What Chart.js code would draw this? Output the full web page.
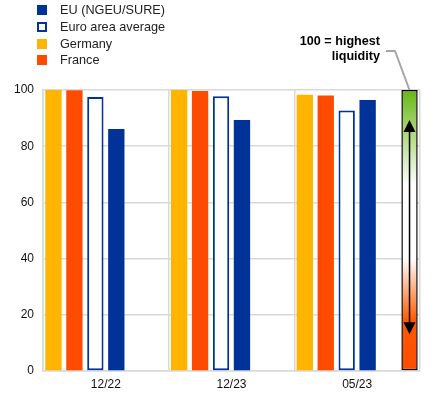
<!DOCTYPE html>
<html>
<head>
<meta charset="utf-8">
<script src="https://cdn.jsdelivr.net/npm/chart.js@4"></script>
<style>
  body { margin: 0; background: #fff; font-family: "Liberation Sans", Arial, sans-serif; }
  #wrap { position: relative; width: 435px; height: 399px; }
  #legend { position: absolute; left: 37px; top: 2px; font-size: 12.7px; color: #222; }
  #legend div { height: 16.7px; display: flex; align-items: center; }
  #legend span.box { display: inline-block; width: 10px; height: 10px; margin-right: 13px; box-sizing: border-box; }
</style>
</head>
<body>
<div id="wrap">
  <canvas id="chart" width="435" height="399"></canvas>
  <div id="legend"></div>
</div>
<script>
const categories = ["12/22", "12/23", "05/23"];

const germany = [100, 100, 98.3];
const france = [99.9, 99.6, 98.0];
const euroAvg = [97.5, 97.8, 92.7];
const eu = [86.1, 89.3, 96.4];
const scaleBar = [null, null, 100];

const blue = "#003299";
const yellow = "#ffb400";
const orange = "#ff4b00";

// legend (html)
const legendItems = [
    { label: "EU (NGEU/SURE)", fill: blue, border: blue },
    { label: "Euro area average", fill: "#fff", border: blue },
    { label: "Germany", fill: yellow, border: yellow },
    { label: "France", fill: orange, border: orange }
];
const legendEl = document.getElementById("legend");
legendItems.forEach(item => {
    const row = document.createElement("div");
    row.innerHTML = `<span class="box" style="background:${item.fill};border:2px solid ${item.border}"></span>${item.label}`;
    legendEl.appendChild(row);
});

// gradient for liquidity bar
function liquidityGradient(ctx) {
    const area = ctx.chart.chartArea;
    if (!area) return "#fff";
    const g = ctx.chart.ctx.createLinearGradient(0, area.top, 0, area.bottom);
    g.addColorStop(0, "#66b814");
    g.addColorStop(0.08, "#8cc84a");
    g.addColorStop(0.34, "#ffffff");
    g.addColorStop(0.6, "#ffffff");
    g.addColorStop(0.82, "#ff5a00");
    g.addColorStop(1, "#ff4b00");
    return g;
}

// arrows + annotation
const extras = {
    id: "extras",
    afterDatasetsDraw(chart) {
        const c = chart.ctx;
        const el = chart.getDatasetMeta(5).data[2];
        const x = el.x;
        const top = el.y;
        const bottom = el.base;

        c.save();
        c.strokeStyle = "#000";
        c.fillStyle = "#000";
        c.lineWidth = 1.5;
        c.beginPath();
        c.moveTo(x, top + 36);
        c.lineTo(x, bottom - 40);
        c.stroke();
        // up head
        c.beginPath();
        c.moveTo(x, top + 30);
        c.lineTo(x - 6, top + 42);
        c.lineTo(x + 6, top + 42);
        c.closePath();
        c.fill();
        // down head
        c.beginPath();
        c.moveTo(x, bottom - 36);
        c.lineTo(x - 6, bottom - 48);
        c.lineTo(x + 6, bottom - 48);
        c.closePath();
        c.fill();

        // leader line
        c.strokeStyle = "#a6a6a6";
        c.lineWidth = 2;
        c.beginPath();
        c.moveTo(386, 51);
        c.lineTo(395, 51);
        c.lineTo(x, top);
        c.stroke();

        c.font = "bold 12.6px 'Liberation Sans', Arial, sans-serif";
        c.textAlign = "right";
        c.textBaseline = "middle";
        c.fillText("100 = highest", 380, 42);
        c.fillText("liquidity", 380, 57);
        c.restore();
    }
};

new Chart(document.getElementById("chart"), {
    type: "bar",
    data: {
        labels: categories,
        datasets: [
            { label: "Germany", data: germany, backgroundColor: yellow },
            { label: "France", data: france, backgroundColor: orange },
            { label: "Euro area average", data: euroAvg, backgroundColor: "#fff",
              borderColor: blue, borderWidth: 2, borderSkipped: false },
            { label: "EU (NGEU/SURE)", data: eu, backgroundColor: blue },
            { label: "", data: [null, null, null] },
            { label: "scale", data: scaleBar, backgroundColor: liquidityGradient,
              borderColor: "#000", borderWidth: 1.5, borderSkipped: false }
        ]
    },
    options: {
        responsive: false,
        animation: false,
        layout: { padding: { top: 90, right: 15, left: 0, bottom: 0 } },
        datasets: { bar: { categoryPercentage: 1.0, barPercentage: 0.78 } },
        plugins: { legend: { display: false }, tooltip: { enabled: false } },
        scales: {
            x: {
                grid: { color: "#d9d9d9", lineWidth: 1.5, drawTicks: false },
                border: { color: "#d9d9d9", width: 1.5 },
                ticks: { color: "#111", font: { size: 12, family: "'Liberation Sans', Arial" }, padding: 6 },
                afterFit(s) { s.height = 28; }
            },
            y: {
                min: 0, max: 100,
                grid: { color: "#d9d9d9", lineWidth: 1.5, drawTicks: false },
                border: { color: "#d9d9d9", width: 1.5 },
                ticks: { stepSize: 20, color: "#111", font: { size: 12, family: "'Liberation Sans', Arial" }, padding: 9 },
                afterFit(s) { s.width = 43; }
            }
        }
    },
    plugins: [extras]
});
</script>
</body>
</html>
